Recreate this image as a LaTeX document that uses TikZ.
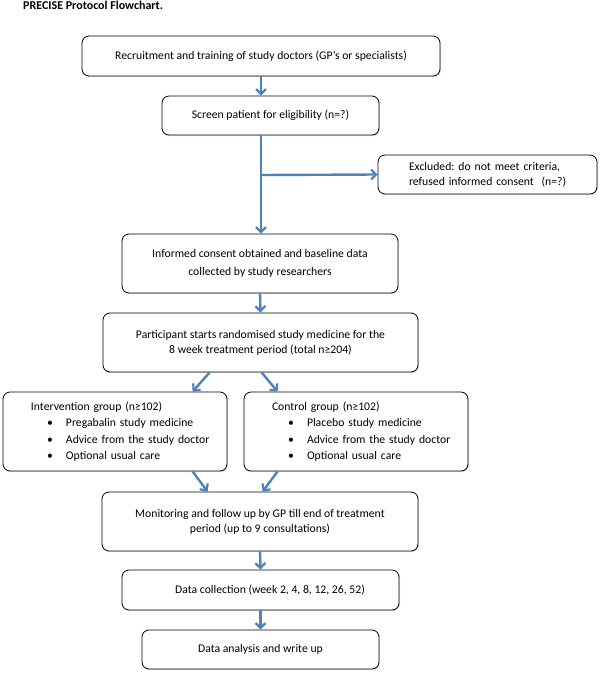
\documentclass[tikz,border=0pt]{standalone}
\usepackage{fontspec}
\setmainfont{Carlito}
\usetikzlibrary{arrows.meta,shadows}
\definecolor{arrowblue}{RGB}{79,129,189}
\frenchspacing
\tikzset{
  box/.style={draw=black, line width=0.8pt, rounded corners=7pt, fill=white,
    drop shadow={opacity=0.25, shadow xshift=1pt, shadow yshift=-1.2pt},
    font=\fontsize{11.7}{15}\selectfont\frenchspacing, align=center, inner sep=0pt},
  listbox/.style={box, minimum width=224pt, minimum height=79pt, align=left,
    text width=224pt, inner xsep=0pt, font=\fontsize{11.7}{16.5}\selectfont\frenchspacing},
  flow/.style={draw=arrowblue, line width=2.4pt, -{Straight Barb[length=5pt,width=10pt,line width=2.2pt]}},
  bline/.style={draw=arrowblue, line width=2.4pt}
}
\newcommand{\bul}[1]{\hspace*{63pt}\llap{\textbullet\hspace{13pt}}#1}
\newcommand{\ltitle}[1]{\hspace*{28pt}#1}
\begin{document}
\begin{tikzpicture}[x=1pt,y=-1pt]
\useasboundingbox (0,0) rectangle (600,675);
\node[anchor=base west, font=\fontsize{12}{13}\selectfont\bfseries, inner sep=0pt] (title) at (23,9) {PRECISE Protocol Flowchart.};

\node[box, minimum width=358pt, minimum height=40pt] (b1) at (261,56) {Recruitment and training of study doctors (GP’s or specialists)};
\node[box, minimum width=217pt, minimum height=39pt] (b2) at (270.5,115.5) {Screen patient for eligibility (n=?)};
\node[box, minimum width=219pt, minimum height=39pt, align=left, text width=219pt, inner xsep=0pt] (ex) at (487.5,174.5) {\hspace*{31pt}Excluded: do not meet criteria,\\\hspace*{31pt}refused informed consent\ \ (n=?)};
\node[box, minimum width=276pt, minimum height=59pt, font=\fontsize{11.7}{17.5}\selectfont\frenchspacing] (b3) at (260,263.5) {Informed consent obtained and baseline data\\collected by study researchers};
\node[box, minimum width=315pt, minimum height=59pt] (b4) at (260.5,342.5) {Participant starts randomised study medicine for the\\8 week treatment period (total n≥204)};

\node[listbox] (iv) at (115,431.5)
 {\ltitle{Intervention group (n≥102)}\\
  \bul{Pregabalin study medicine}\\
  \bul{Advice from the study doctor}\\
  \bul{Optional usual care}};
\node[listbox] (cg) at (356,431.5)
 {\ltitle{Control group (n≥102)}\\
  \bul{Placebo study medicine}\\
  \bul{Advice from the study doctor}\\
  \bul{Optional usual care}};

\node[box, minimum width=316pt, minimum height=59pt] (b5) at (260,521.5) {Monitoring and follow up by GP till end of treatment\\period (up to 9 consultations)};
\node[box, minimum width=277pt, minimum height=40pt] (b6) at (260.5,590) {\hspace*{19pt}Data collection (week 2, 4, 8, 12, 26, 52)};
\node[box, minimum width=237pt, minimum height=39pt] (b7) at (260.5,649.5) {Data analysis and write up};

\coordinate (split) at (261,175);

\draw[flow] (b1.south) -- (b1.south |- b2.north);
\draw[bline] (b1.south |- b2.south) -- (split);
\draw[flow] (split) -- (b3.north -| split);
\draw[flow] (split) -- (ex.west);
\draw[flow] (b3.south) -- (b4.north);
\draw[flow] ([xshift=107pt]b4.south west) -- ([xshift=190pt]iv.north west);
\draw[flow] ([xshift=159pt]b4.south west) -- ([xshift=34pt]cg.north west);
\draw[flow] ([xshift=190pt]iv.south west) -- ([xshift=106pt]b5.north west);
\draw[flow] ([xshift=34pt]cg.south west) -- ([xshift=161pt]b5.north west);
\draw[flow] (b5.south) -- (b6.north);
\draw[flow] (b6.south) -- (b7.north);
\end{tikzpicture}
\end{document}
